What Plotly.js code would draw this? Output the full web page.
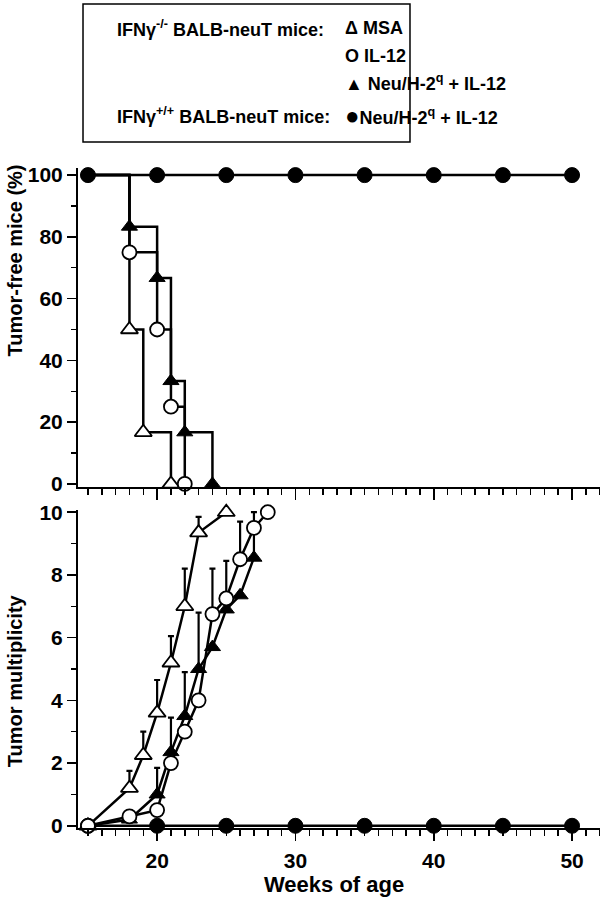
<!DOCTYPE html>
<html>
<head>
<meta charset="utf-8">
<script src="https://cdn.plot.ly/plotly-3.0.1.min.js"></script>
<style>
  body { margin: 0; background: #fff; }
  #myDiv { width: 603px; height: 899px; }
</style>
</head>
<body>
<div id="myDiv"></div>
<script>
// tumor-free mice (%), Kaplan-Meier steps (first point = start of curve)
var freeMsaWeeks = [15, 18, 19, 21];
var freeMsa = [100, 50, 16.7, 0];
var freeIl12Weeks = [15, 18, 20, 21, 22];
var freeIl12 = [100, 75, 50, 25, 0];
var freeNeuWeeks = [15, 18, 20, 21, 22, 24];
var freeNeu = [100, 83.3, 66.7, 33.3, 16.7, 0];
var freeWtWeeks = [15, 20, 25, 30, 35, 40, 45, 50];
var freeWt = [100, 100, 100, 100, 100, 100, 100, 100];

// tumor multiplicity (mean + upper error)
var multMsaWeeks = [15, 18, 19, 20, 21, 22, 23, 25];
var multMsa = [0, 1.2, 2.25, 3.6, 5.2, 7.0, 9.35, 10];
var multMsaErr = [0, 0.55, 0.75, 1.05, 0.85, 1.2, 0.5, 0];
var multIl12Weeks = [15, 18, 20, 21, 22, 23, 24, 25, 26, 27, 28];
var multIl12 = [0, 0.3, 0.5, 2.0, 3.0, 4.0, 6.75, 7.25, 8.5, 9.5, 10];
var multIl12Err = [0, 0, 0, 0, 0, 0, 1.45, 1.2, 1.2, 0, 0];
var multNeuWeeks = [15, 18, 20, 21, 22, 23, 24, 25, 26, 27];
var multNeu = [0, 0.2, 1.0, 2.35, 3.5, 5.0, 5.7, 6.9, 7.35, 8.55];
var multNeuErr = [0, 0.25, 0.85, 1.1, 1.4, 1.8, 0, 0, 0, 1.45];
var multWtWeeks = [15, 20, 25, 30, 35, 40, 45, 50];
var multWt = [0, 0, 0, 0, 0, 0, 0, 0];

var FONT = 'Liberation Sans, Arial, Helvetica, sans-serif';
var LW = 2.5;

function zeros(a) { return a.map(function () { return 0; }); }
// hide the marker on the starting point of a step curve
function stepSizes(a, s) { return a.map(function (v, i) { return i === 0 ? 0 : s; }); }

var openTri = { symbol: 'triangle-up', color: 'white', opacity: 1, line: { color: 'black', width: 1.8 } };
var openCirc = { symbol: 'circle', color: 'white', opacity: 1, line: { color: 'black', width: 1.8 } };
var fillTri = { symbol: 'triangle-up', color: 'black', opacity: 1, line: { color: 'black', width: 1 } };
var fillCirc = { symbol: 'circle', color: 'black', opacity: 1, line: { color: 'black', width: 1 } };

function mk(base, size) {
  return Object.assign({}, base, { size: size });
}
function errs(a) {
  return { type: 'data', symmetric: false, array: a, arrayminus: zeros(a), color: 'black', thickness: 2.2, width: 3 };
}

var data = [
  // top panel
  { x: freeMsaWeeks, y: freeMsa, xaxis: 'x2', yaxis: 'y2', mode: 'lines+markers',
    line: { shape: 'hv', color: 'black', width: LW }, marker: mk(openTri, stepSizes(freeMsa, 15)), cliponaxis: false },
  { x: freeIl12Weeks, y: freeIl12, xaxis: 'x2', yaxis: 'y2', mode: 'lines+markers',
    line: { shape: 'hv', color: 'black', width: LW }, marker: mk(openCirc, stepSizes(freeIl12, 14)), cliponaxis: false },
  { x: freeNeuWeeks, y: freeNeu, xaxis: 'x2', yaxis: 'y2', mode: 'lines+markers',
    line: { shape: 'hv', color: 'black', width: LW }, marker: mk(fillTri, stepSizes(freeNeu, 14)), cliponaxis: false },
  { x: freeWtWeeks, y: freeWt, xaxis: 'x2', yaxis: 'y2', mode: 'lines+markers',
    line: { color: 'black', width: LW }, marker: mk(fillCirc, 15), cliponaxis: false },

  // bottom panel
  { x: multWtWeeks, y: multWt, mode: 'lines+markers',
    line: { color: 'black', width: LW }, marker: mk(fillCirc, 15), cliponaxis: false },
  { x: multMsaWeeks, y: multMsa, mode: 'lines+markers', error_y: errs(multMsaErr),
    line: { color: 'black', width: LW }, marker: mk(openTri, 15), cliponaxis: false },
  { x: multNeuWeeks, y: multNeu, mode: 'lines+markers', error_y: errs(multNeuErr),
    line: { color: 'black', width: LW }, marker: mk(fillTri, 14), cliponaxis: false },
  { x: multIl12Weeks, y: multIl12, mode: 'lines+markers', error_y: errs(multIl12Err),
    line: { color: 'black', width: LW }, marker: mk(openCirc, 14), cliponaxis: false }
];

var tickFont = { family: FONT, size: 21, color: 'black', weight: 'bold' };

var xBase = {
  range: [14.28, 52.02], showgrid: false, zeroline: false,
  showline: true, linecolor: 'black', linewidth: 2,
  ticks: 'outside', tickcolor: 'black', tickwidth: 1.5, ticklen: 11,
  tick0: 0, dtick: 10,
  minor: { ticks: 'outside', dtick: 1, ticklen: 6, tickcolor: 'black', tickwidth: 1.5 },
  tickfont: tickFont
};

var layout = {
  width: 603, height: 899,
  margin: { l: 78, r: 3, t: 168, b: 71 },
  paper_bgcolor: 'white', plot_bgcolor: 'white',
  showlegend: false,
  font: { family: FONT, color: 'black' },
  xaxis: Object.assign({}, xBase, { anchor: 'y', ticklabelstandoff: 2 }),
  xaxis2: Object.assign({}, xBase, { anchor: 'y2', matches: 'x', showticklabels: false }),
  yaxis: {
    domain: [0, 0.4818], range: [-0.07, 10.07], showgrid: false, zeroline: false,
    showline: true, linecolor: 'black', linewidth: 2,
    ticks: 'outside', tickcolor: 'black', tickwidth: 1.5, ticklen: 9,
    tick0: 0, dtick: 2,
    minor: { ticks: 'outside', dtick: 1, ticklen: 5, tickcolor: 'black', tickwidth: 1.5 },
    tickfont: tickFont
  },
  yaxis2: {
    domain: [0.5167, 1], range: [-1, 102.3], showgrid: false, zeroline: false,
    showline: true, linecolor: 'black', linewidth: 2,
    ticks: 'outside', tickcolor: 'black', tickwidth: 1.5, ticklen: 9,
    tick0: 0, dtick: 20,
    minor: { ticks: 'outside', dtick: 10, ticklen: 5, tickcolor: 'black', tickwidth: 1.5 },
    tickfont: tickFont
  },
  shapes: [
    { type: 'rect', xref: 'paper', yref: 'paper', x0: 0.0096, x1: 0.636, y0: 1.0394, y1: 1.2485,
      line: { color: 'black', width: 1.5 }, fillcolor: 'rgba(0,0,0,0)' }
  ],
  annotations: []
};

var titleFont = { family: FONT, size: 20, color: 'black', weight: 'bold' };
var legFont = { family: FONT, size: 18, color: 'black', weight: 'bold' };

function ann(text, x, y, font, extra) {
  return Object.assign({ text: text, x: x, y: y, xref: 'paper', yref: 'paper', showarrow: false, font: font,
    xanchor: 'center', yanchor: 'middle' }, extra || {});
}

layout.annotations.push(ann('Tumor-free mice (%)', -0.1207, 0.86, titleFont, { textangle: -90 }));
layout.annotations.push(ann('Tumor multiplicity', -0.1207, 0.224, titleFont, { textangle: -90 }));
layout.annotations.push(ann('Weeks of age', 0.49, -0.086, { family: FONT, size: 22, color: 'black', weight: 'bold' }));

// legend box text
layout.annotations.push(ann('IFNγ<sup>-/-</sup> BALB-neuT mice:', 0.0709, 1.2121, legFont, { xanchor: 'left' }));
layout.annotations.push(ann('Δ MSA', 0.5077, 1.2121, legFont, { xanchor: 'left' }));
layout.annotations.push(ann('O IL-12', 0.5077, 1.1697, legFont, { xanchor: 'left' }));
layout.annotations.push(ann('▲ Neu/H-2<sup>q</sup> + IL-12', 0.5077, 1.13, legFont, { xanchor: 'left' }));
layout.annotations.push(ann('IFNγ<sup>+/+</sup> BALB-neuT mice:', 0.0709, 1.079, legFont, { xanchor: 'left' }));
layout.annotations.push(ann('<span style="font-size:24px">●</span>Neu/H-2<sup>q</sup> + IL-12', 0.5077, 1.079, legFont, { xanchor: 'left' }));

Plotly.newPlot('myDiv', data, layout, { displayModeBar: false, staticPlot: true });
</script>
</body>
</html>
